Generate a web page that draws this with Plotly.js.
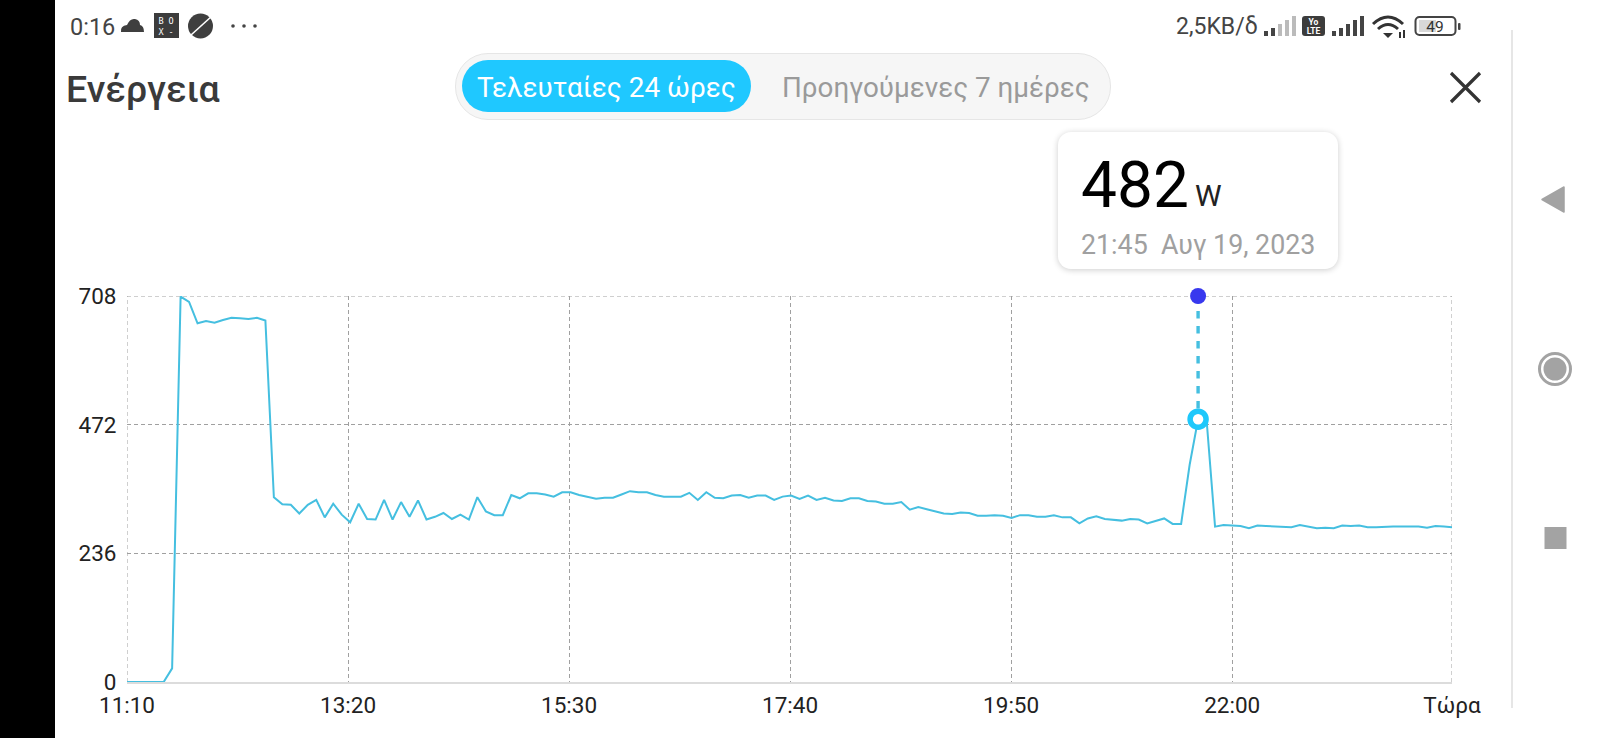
<!DOCTYPE html>
<html>
<head>
<meta charset="utf-8">
<script src="https://cdn.plot.ly/plotly-3.0.1.min.js"></script>
<style>
html,body{margin:0;padding:0;width:1600px;height:738px;background:#fff;overflow:hidden;font-family:Roboto,sans-serif}
#chart{position:absolute;left:0;top:0;width:1600px;height:738px}
.o{position:absolute;white-space:nowrap;pointer-events:none}
</style>
</head>
<body>
<div id="chart"></div>

<div class="o" style="left:0;top:0;width:55px;height:738px;background:#000"></div>
<div class="o" style="left:1511px;top:30px;width:1.5px;height:678px;background:#e6e6e6"></div>

<div class="o" style="left:70px;top:14px;font-size:23.5px;line-height:26px;color:#444">0:16</div>
<svg class="o" style="left:0;top:0" width="1600" height="738" viewBox="0 0 1600 738">
  <path d="M121 32 q-1-6 6-7 q3-7 8-6 q5 1 5 6 q4 1 4 7z" fill="#3f3f3f"/>
  <rect x="154" y="13" width="25" height="25" fill="#3c3c3c"/>
  <text x="161" y="24" font-size="8.5" fill="#fff" text-anchor="middle" font-family="DejaVu Sans Mono">B</text>
  <text x="171" y="24" font-size="8.5" fill="#fff" text-anchor="middle" font-family="DejaVu Sans Mono">O</text>
  <text x="161" y="35" font-size="8.5" fill="#fff" text-anchor="middle" font-family="DejaVu Sans Mono">X</text>
  <text x="171" y="35" font-size="8.5" fill="#fff" text-anchor="middle" font-family="DejaVu Sans Mono">-</text>
  <circle cx="200.5" cy="26" r="12.5" fill="#3f3f3f"/>
  <path d="M191 35 L212 16" stroke="#fff" stroke-width="1.6"/>
  <circle cx="233" cy="26" r="1.8" fill="#444"/><circle cx="244" cy="26" r="1.8" fill="#444"/><circle cx="255" cy="26" r="1.8" fill="#444"/>

  <g fill="#444">
    <rect x="1264" y="31" width="4" height="5"/><rect x="1271" y="28" width="4" height="8"/>
    <rect x="1278" y="24" width="4" height="12" fill="#bbb"/><rect x="1285" y="20" width="4" height="16" fill="#bbb"/><rect x="1292" y="16" width="4" height="20" fill="#bbb"/>
    <rect x="1302" y="16" width="23" height="20" rx="3" fill="#3c3c3c"/>
    <rect x="1332" y="31" width="4" height="5"/><rect x="1339" y="28" width="4" height="8"/>
    <rect x="1346" y="24" width="4" height="12"/><rect x="1353" y="20" width="4" height="16"/><rect x="1360" y="16" width="4" height="20"/>
  </g>
  <text x="1313.5" y="24.5" font-size="8.5" font-weight="700" fill="#fff" text-anchor="middle" font-family="Roboto">Yo</text>
  <text x="1313.5" y="33.5" font-size="8.5" font-weight="700" fill="#fff" text-anchor="middle" font-family="Roboto">LTE</text>
  <g fill="none" stroke="#333" stroke-width="3">
    <path d="M1373 24 Q1388 10 1403 24"/><path d="M1378 29 Q1388 20 1398 29"/>
  </g>
  <path d="M1383 33 L1393 33 L1388 38z" fill="#333"/>
  <rect x="1399" y="32" width="2" height="6" fill="#333"/><rect x="1403" y="30" width="2" height="8" fill="#333"/>
  <rect x="1415.5" y="17" width="40" height="18" rx="4" fill="#fff" stroke="#444" stroke-width="2"/>
  <rect x="1419" y="20" width="17" height="12" fill="#d8d8d8"/>
  <rect x="1458" y="23" width="2.5" height="7" rx="1" fill="#444"/>
  <text x="1435" y="32" font-size="15.5" fill="#333" text-anchor="middle" font-family="Roboto">49</text>

  <path d="M1451 73 L1480 102 M1480 73 L1451 102" stroke="#333" stroke-width="3.2" fill="none"/>

  <path d="M1564 187 L1564 212 L1542 199.5z" fill="#a3a3a3" stroke="#a3a3a3" stroke-width="1.5" stroke-linejoin="round"/>
  <circle cx="1555" cy="369" r="15.5" fill="#fff" stroke="#a3a3a3" stroke-width="3"/>
  <circle cx="1555" cy="369" r="11.5" fill="#a3a3a3"/>
  <rect x="1544.5" y="527" width="22" height="22" fill="#a3a3a3"/>
</svg>
<div class="o" style="left:1176px;top:14px;font-size:23px;line-height:26px;color:#444">2,5KB/δ</div>

<div class="o" style="left:66px;top:66px;font-size:37.5px;line-height:46px;font-weight:500;color:#3a3a3a">Ενέργεια</div>

<div class="o" style="left:455px;top:53px;width:656px;height:67px;border-radius:33px;background:#f6f6f6;border:1.5px solid #e6e6e6;box-sizing:border-box"></div>
<div class="o" style="left:462px;top:60px;width:289px;height:52px;border-radius:26px;background:#1fc8ff"></div>
<div class="o" style="left:462px;top:62px;width:289px;height:52px;line-height:52px;text-align:center;font-size:27.9px;color:#fff">Τελευταίες 24 ώρες</div>
<div class="o" style="left:782px;top:62px;line-height:52px;font-size:27.8px;color:#9a9a9a">Προηγούμενες 7 ημέρες</div>

<div class="o" style="left:1058px;top:132px;width:280px;height:137px;border-radius:13px;background:#fff;box-shadow:0 1px 6px rgba(0,0,0,.2)"></div>
<div class="o" style="left:1081px;top:149px;font-size:64px;line-height:74px;color:#000">482</div>
<div class="o" style="left:1195px;top:178px;font-size:30px;line-height:36px;color:#222">W</div>
<div class="o" style="left:1081px;top:229px;font-size:26.8px;line-height:32px;color:#a0a0a0;white-space:pre">21:45  Αυγ 19, 2023</div>

<script>
const axisStart = 670;
const axisEnd = 1449.3;
const tickMinutes = [670, 800, 930, 1060, 1190, 1320, 1449.3];
const tickLabels = ['11:10', '13:20', '15:30', '17:40', '19:50', '22:00', 'Τώρα'];
const yTicks = [0, 236, 472, 708];
const firstSample = 671.6;
const sampleStep = 4.987;
const selectedIndex = 126;
const topValue = 708;
const powerW = [
  0,0,0,0,0,25,707,697,658,662,659,664,668,667,666,668,663,339,326,325,
  309,325,334,302,327,307,293,327,299,298,334,298,330,303,333,298,303,310,299,307,
  298,339,313,306,306,343,337,346,346,344,340,348,348,343,340,336,338,338,344,350,
  348,348,343,340,340,340,347,334,348,338,337,342,343,338,342,342,334,340,342,336,
  342,334,338,333,332,337,337,332,331,327,327,330,316,321,317,313,309,308,311,310,
  305,305,306,305,301,306,306,303,303,306,302,302,291,300,304,299,298,296,299,298,
  291,296,300,290,290,398,482,481,285,288,287,286,282,287,286,285,284,284,288,285,
  282,283,282,287,286,287,284,284,285,285,285,285,285,283,286,285,284
];
const minutes = powerW.map((_, i) => i === 0 ? axisStart : firstSample + sampleStep * i);

const gridStyle = {color: '#a0a0a0', width: 1, dash: '4px,3px'};
const traces = [
  {x: minutes, y: powerW, mode: 'lines', line: {color: '#45bfe0', width: 2}, hoverinfo: 'skip'},
  {x: [minutes[selectedIndex], minutes[selectedIndex]], y: [topValue, powerW[selectedIndex]], mode: 'lines',
   line: {color: '#45bfe0', width: 3.4, dash: '7.5px,7.5px'}, hoverinfo: 'skip', cliponaxis: false},
  {x: [minutes[selectedIndex]], y: [topValue], mode: 'markers',
   marker: {color: '#3838ee', size: 16}, hoverinfo: 'skip', cliponaxis: false},
  {x: [minutes[selectedIndex]], y: [powerW[selectedIndex]], mode: 'markers',
   marker: {color: '#ffffff', size: 16, line: {color: '#1ec8fb', width: 5.5}}, hoverinfo: 'skip', cliponaxis: false}
];

const layout = {
  width: 1600, height: 738, autosize: false, showlegend: false,
  paper_bgcolor: '#ffffff', plot_bgcolor: '#ffffff',
  margin: {l: 127, r: 147.7, t: 296, b: 55.5, pad: 0},
  font: {family: 'Roboto, sans-serif', size: 22.5, color: '#222222'},
  shapes: [
    {type: 'line', layer: 'below', xref: 'x', yref: 'paper', x0: axisStart, x1: axisStart, y0: 0, y1: 1, line: gridStyle},
    {type: 'line', layer: 'below', xref: 'x', yref: 'paper', x0: axisEnd, x1: axisEnd, y0: 0, y1: 1, line: gridStyle},
    {type: 'line', layer: 'below', xref: 'paper', yref: 'y', x0: 0, x1: 1, y0: topValue, y1: topValue, line: gridStyle}
  ],
  xaxis: {
    range: [axisStart, axisEnd], tickmode: 'array', tickvals: tickMinutes, ticktext: tickLabels,
    showgrid: true, gridcolor: '#a0a0a0', gridwidth: 1, griddash: '4px,3px',
    zeroline: false, showline: true, linecolor: '#dcdcdc', linewidth: 2,
    ticks: 'outside', ticklen: 2, tickcolor: 'rgba(0,0,0,0)',
    tickangle: 0, tickfont: {family: 'Roboto, sans-serif', size: 22.5, color: '#222222'}
  },
  yaxis: {
    range: [0, 708], tickmode: 'array', tickvals: yTicks, ticktext: yTicks.map(String),
    showgrid: true, gridcolor: '#a0a0a0', gridwidth: 1, griddash: '4px,3px',
    zeroline: false, showline: false,
    ticks: 'outside', ticklen: 5, tickcolor: 'rgba(0,0,0,0)',
    tickfont: {family: 'Roboto, sans-serif', size: 22.5, color: '#222222'}
  }
};
Plotly.newPlot('chart', traces, layout, {displayModeBar: false, staticPlot: true});
</script>
</body>
</html>
